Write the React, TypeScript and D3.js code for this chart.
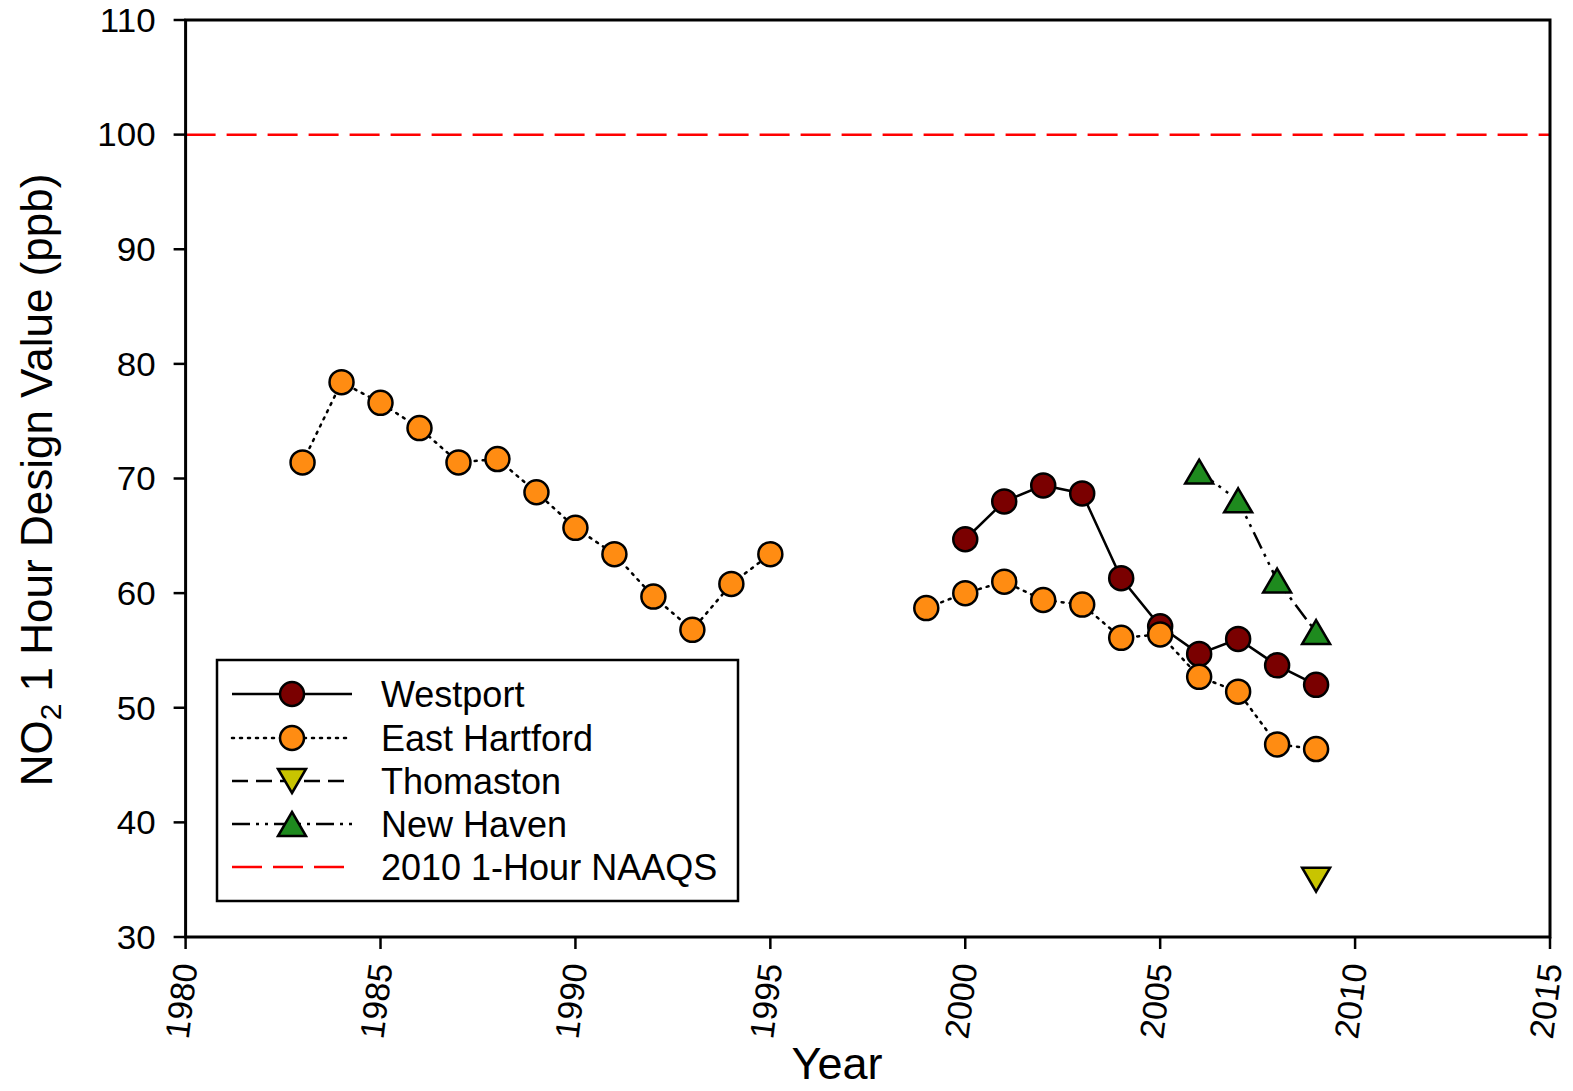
import React from "react";
import * as d3 from "d3";

// NO2 1-hour design values (ppb) by site
const westportYears = [2000, 2001, 2002, 2003, 2004, 2005, 2006, 2007, 2008, 2009];
const westportValues = [64.7, 68.0, 69.4, 68.7, 61.3, 57.1, 54.7, 56.0, 53.7, 52.0];

const eastHartfordYears = [
  1983, 1984, 1985, 1986, 1987, 1988, 1989, 1990, 1991, 1992, 1993, 1994, 1995,
  1996, 1997, 1998, 1999, 2000, 2001, 2002, 2003, 2004, 2005, 2006, 2007, 2008, 2009,
];
const eastHartfordValues = [
  71.4, 78.4, 76.6, 74.4, 71.4, 71.7, 68.8, 65.7, 63.4, 59.7, 56.8, 60.8, 63.4,
  null, null, null, 58.7, 60.0, 61.0, 59.4, 59.0, 56.1, 56.4, 52.7, 51.4, 46.8, 46.4,
];

const thomastonYears = [2009];
const thomastonValues = [35.0];

const newHavenYears = [2006, 2007, 2008, 2009];
const newHavenValues = [70.6, 68.1, 61.1, 56.6];

const naaqsLevel = 100;

const xTicks = [1980, 1985, 1990, 1995, 2000, 2005, 2010, 2015];
const yTicks = [30, 40, 50, 60, 70, 80, 90, 100, 110];

const legendLabels = ["Westport", "East Hartford", "Thomaston", "New Haven", "2010 1-Hour NAAQS"];

const W = 1573;
const H = 1091;
const font = "Arial, 'Liberation Sans', sans-serif";

type Pt = [number, number | null];

function zip(xs: number[], ys: (number | null)[]): Pt[] {
  return xs.map((x, i) => [x, ys[i]]);
}

export default function App() {
  const x = d3.scaleLinear().domain([1980, 2015]).range([185.6, 1550]);
  const y = d3.scaleLinear().domain([30, 110]).range([937, 20]);

  const line = d3
    .line<Pt>()
    .defined((d) => d[1] != null)
    .x((d) => x(d[0]))
    .y((d) => y(d[1] as number));

  const circle = (cx: number, cy: number, fill: string, key: any) => (
    <circle key={key} cx={cx} cy={cy} r={12} fill={fill} stroke="#000" strokeWidth={2.5} />
  );
  const tri = (cx: number, cy: number, fill: string, up: boolean, key: any) => {
    const w = 14, h = 12;
    const d = up
      ? `M${cx},${cy - h} L${cx + w},${cy + h} L${cx - w},${cy + h} Z`
      : `M${cx},${cy + h} L${cx + w},${cy - h} L${cx - w},${cy - h} Z`;
    return <path key={key} d={d} fill={fill} stroke="#000" strokeWidth={2.5} strokeLinejoin="miter" />;
  };

  const series = [
    { name: "Westport", pts: zip(westportYears, westportValues), dash: "none", mark: "circle", fill: "#7a0000" },
    { name: "East Hartford", pts: zip(eastHartfordYears, eastHartfordValues), dash: "2 6", mark: "circle", fill: "#ff8c12" },
    { name: "Thomaston", pts: zip(thomastonYears, thomastonValues), dash: "16 8", mark: "down", fill: "#c8c400" },
    { name: "New Haven", pts: zip(newHavenYears, newHavenValues), dash: "18 6 3 6 3 6", mark: "up", fill: "#1e8a1e" },
  ];

  const marker = (m: string, cx: number, cy: number, fill: string, key: any) =>
    m === "circle" ? circle(cx, cy, fill, key) : tri(cx, cy, fill, m === "up", key);

  const [x0, x1] = x.range();
  const [y0, y1] = y.range();

  const legendRows = [694, 738, 781, 824, 867];

  return (
    <div style={{ position: "absolute", left: 0, top: 0 }}>
      <svg width={W} height={H} style={{ display: "block", background: "#fff" }}>
        {/* NAAQS line */}
        <line x1={x0} x2={x1} y1={y(naaqsLevel)} y2={y(naaqsLevel)} stroke="#ff0000" strokeWidth={2.5} strokeDasharray="30 11" />

        {/* frame */}
        <rect x={x0} y={y1} width={x1 - x0} height={y0 - y1} fill="none" stroke="#000" strokeWidth={3} />

        {/* y axis */}
        {yTicks.map((t) => (
          <g key={t}>
            <line x1={x0 - 12} x2={x0} y1={y(t)} y2={y(t)} stroke="#000" strokeWidth={2.5} />
            <text x={x0 - 30} y={y(t)} dy="0.36em" textAnchor="end" fontFamily={font} fontSize={33}
              transform={`translate(${x0 - 30},0) scale(1.06,1) translate(${-(x0 - 30)},0)`}>
              {t}
            </text>
          </g>
        ))}

        {/* x axis */}
        {xTicks.map((t) => (
          <g key={t}>
            <line x1={x(t)} x2={x(t)} y1={y0} y2={y0 + 12} stroke="#000" strokeWidth={2.5} />
            <text
              transform={`translate(${x(t) + 12},${y0 + 28}) rotate(-83)`}
              textAnchor="end"
              fontFamily={font}
              fontSize={34}
            >
              {t}
            </text>
          </g>
        ))}

        <text x={837} y={1079} textAnchor="middle" fontFamily={font} fontSize={45}>
          Year
        </text>
        <text transform={`translate(52,480) rotate(-90)`} textAnchor="middle" fontFamily={font} fontSize={44}>
          NO<tspan dy={9} fontSize={30}>2</tspan>
          <tspan dy={-9}> 1 Hour Design Value (ppb)</tspan>
        </text>

        {/* series lines */}
        {series.map((s) => (
          <path key={s.name} d={line(s.pts) || ""} fill="none" stroke="#000" strokeWidth={2.5}
            strokeDasharray={s.dash} strokeLinecap={s.dash === "2 6" ? "round" : "butt"} />
        ))}
        {/* markers */}
        {series.map((s) =>
          s.pts.filter((p) => p[1] != null).map((p, i) => marker(s.mark, x(p[0]), y(p[1] as number), s.fill, s.name + i))
        )}

        {/* legend */}
        <rect x={217} y={660} width={521} height={241} fill="#fff" stroke="#000" strokeWidth={2.5} />
        {series.map((s, i) => (
          <g key={s.name}>
            <line x1={232} x2={352} y1={legendRows[i]} y2={legendRows[i]} stroke="#000" strokeWidth={2.5}
              strokeDasharray={s.dash} strokeLinecap={s.dash === "2 6" ? "round" : "butt"} />
            {marker(s.mark, 292, legendRows[i], s.fill, "lm" + i)}
          </g>
        ))}
        <line x1={232} x2={352} y1={legendRows[4]} y2={legendRows[4]} stroke="#ff0000" strokeWidth={2.5} strokeDasharray="30 11" />
        {legendLabels.map((l, i) => (
          <text key={l} x={381} y={legendRows[i]} dy="0.36em" fontFamily={font} fontSize={36}>
            {l}
          </text>
        ))}
      </svg>
    </div>
  );
}
